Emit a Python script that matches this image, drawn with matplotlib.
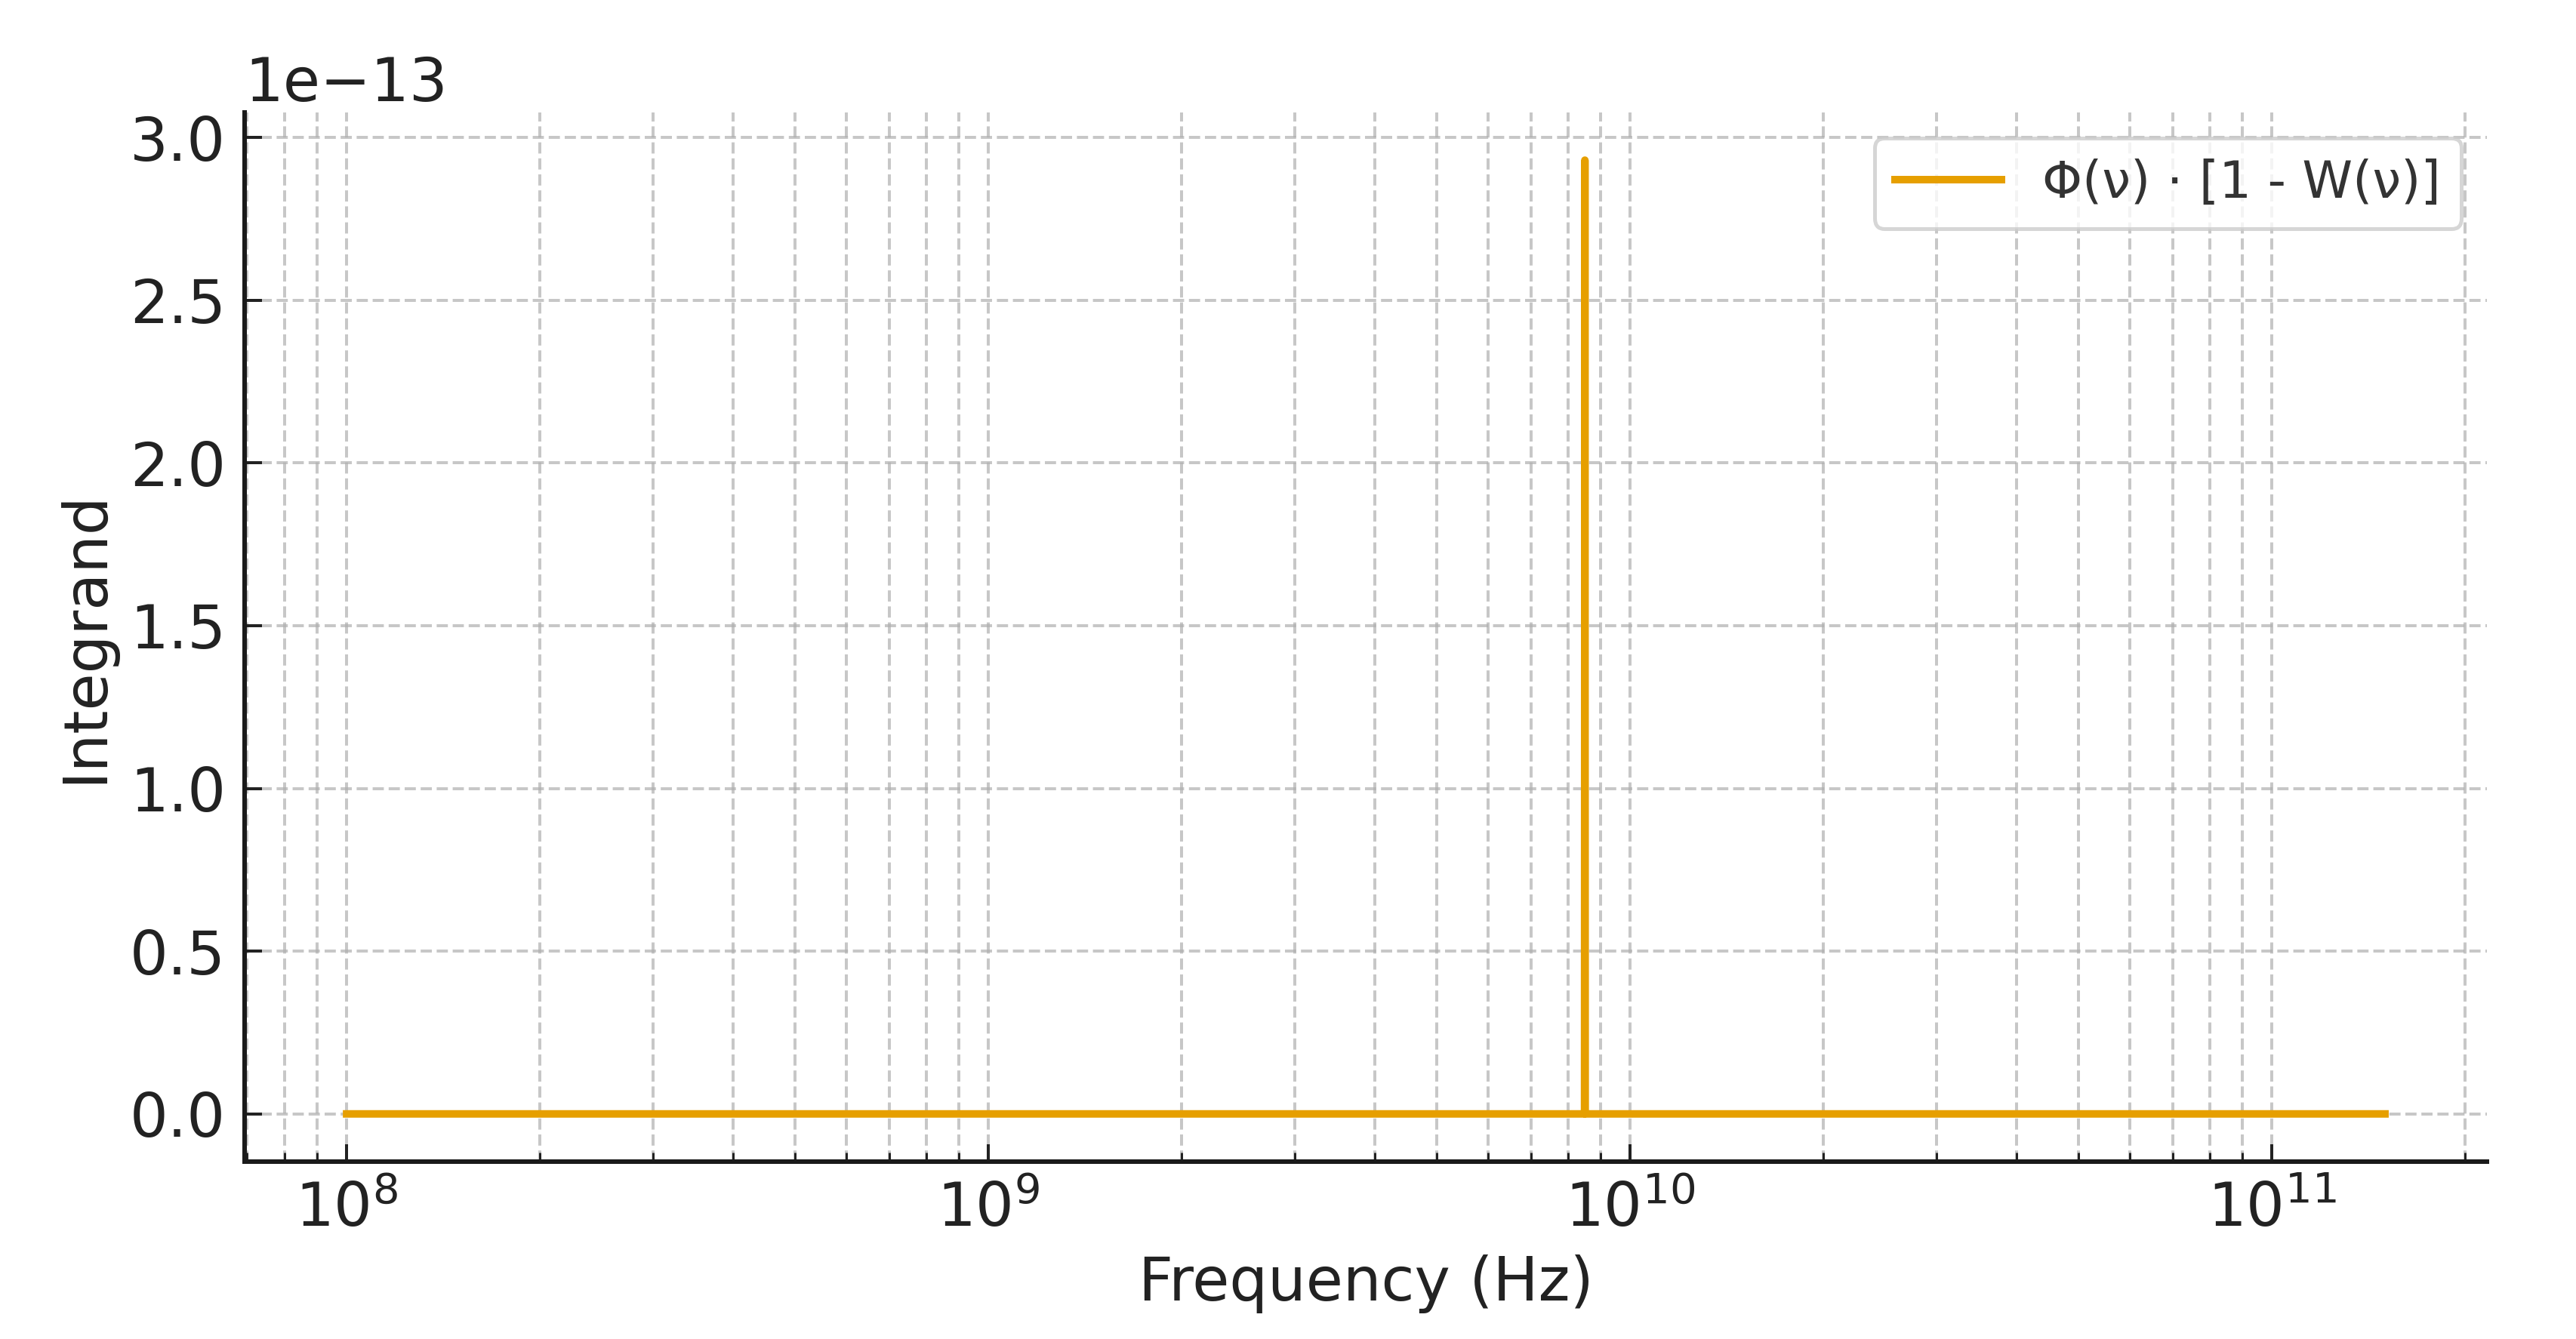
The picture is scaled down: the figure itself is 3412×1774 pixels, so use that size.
import numpy as np
import matplotlib
matplotlib.use("Agg")
import matplotlib.pyplot as plt
from matplotlib.ticker import LogLocator

# values (spike at ~8.5 GHz)
freq_hz = [1e8, 8.49e9, 8.5e9, 8.51e9, 1.5e11]
integrand = [0.0, 0.0, 2.93e-13, 0.0, 0.0]
series_label = "Φ(ν) · [1 - W(ν)]"

plt.rcParams.update({
    "font.family": ["DejaVu Sans"],
    "text.color": "#222222",
    "axes.labelcolor": "#222222",
    "xtick.color": "#222222",
    "ytick.color": "#222222",
    "axes.edgecolor": "#1a1a1a",
    "axes.linewidth": 1.2,
    "xtick.direction": "in",
    "ytick.direction": "in",
    "xtick.major.size": 4.6,
    "ytick.major.size": 4.6,
    "xtick.minor.size": 2.4,
    "xtick.major.width": 0.8,
    "ytick.major.width": 0.8,
    "xtick.minor.width": 0.6,
    "xtick.major.pad": 5,
    "ytick.major.pad": 5,
})

fig = plt.figure(figsize=(3412 / 360, 1774 / 360), dpi=360)
ax = fig.add_axes([0.0950, 0.1325, 0.8704, 0.7835])

ax.plot(freq_hz, integrand, color="#E69F00", lw=2, label=series_label)
ax.set_xscale("log")

ax.xaxis.set_minor_locator(LogLocator(base=10, subs=np.arange(2, 10), numticks=20))
ax.grid(True, which="major", ls="--", lw=0.8, color="#b0b0b0", alpha=0.7)
ax.grid(True, which="minor", axis="x", ls="--", lw=0.8, color="#b0b0b0", alpha=0.7)

for side in ("top", "right"):
    ax.spines[side].set_visible(False)

ax.tick_params(labelsize=16)
ax.yaxis.get_offset_text().set_fontsize(16)
ax.set_xlabel("Frequency (Hz)", fontsize=16)
ax.set_ylabel("Integrand", fontsize=16)

leg = ax.legend(loc="upper right", fontsize=13.5, handlelength=2.1,
                frameon=True, fancybox=True, borderaxespad=0.5)
leg.get_frame().set_edgecolor("#cccccc")
for t in leg.get_texts():
    t.set_color("#333333")

fig.savefig("out.png", dpi=360)
